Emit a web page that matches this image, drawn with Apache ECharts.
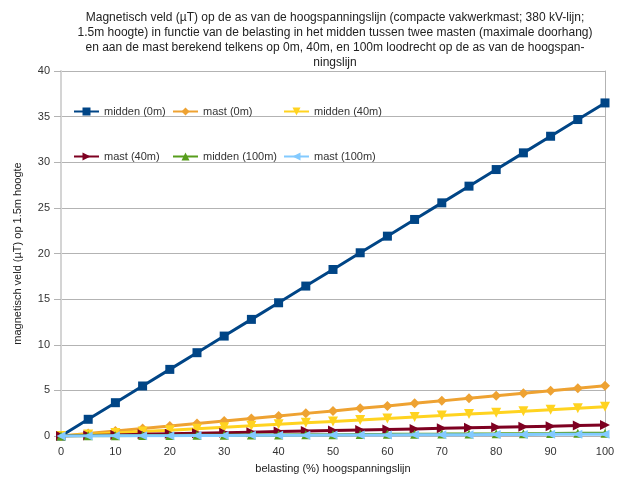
<!DOCTYPE html>
<html>
<head>
<meta charset="utf-8">
<script src="https://cdn.jsdelivr.net/npm/echarts@6/dist/echarts.min.js"></script>
<style>html,body{margin:0;padding:0;background:#fff}#c{width:624px;height:481px}</style>
</head>
<body>
<div id="c"></div>
<script>
var belasting = [0,5,10,15,20,25,30,35,40,45,50,55,60,65,70,75,80,85,90,95,100];
var midden0m = [0,1.83,3.65,5.48,7.3,9.13,10.95,12.78,14.6,16.43,18.25,20.08,21.9,23.73,25.55,27.38,29.2,31.03,32.85,34.68,36.5];
var mast0m = [0,0.28,0.55,0.83,1.1,1.38,1.65,1.93,2.2,2.48,2.75,3.03,3.3,3.58,3.85,4.13,4.4,4.68,4.95,5.23,5.5];
var midden40m = [0,0.16,0.32,0.48,0.64,0.8,0.96,1.12,1.28,1.44,1.6,1.76,1.92,2.08,2.24,2.4,2.56,2.72,2.88,3.04,3.2];
var mast40m = [0,0.06,0.12,0.18,0.24,0.3,0.36,0.42,0.48,0.54,0.6,0.66,0.72,0.78,0.84,0.9,0.96,1.02,1.08,1.14,1.2];
var midden100m = [0,0.02,0.03,0.05,0.06,0.08,0.09,0.11,0.12,0.14,0.15,0.17,0.18,0.2,0.21,0.23,0.24,0.26,0.27,0.29,0.3];
var mast100m = [0,0.01,0.02,0.03,0.04,0.05,0.06,0.07,0.08,0.09,0.1,0.11,0.12,0.13,0.14,0.15,0.16,0.17,0.18,0.19,0.2];
var names = ['midden (0m)','mast (0m)','midden (40m)','mast (40m)','midden (100m)','mast (100m)'];
var colors = ['#004586','#eea232','#ffd320','#7e0021','#579d1c','#83caff'];
var symbols = ['rect','diamond','triangle','triangle','triangle','triangle'];
var rotates = [0,0,180,-90,0,90];
var sizes = [9,10,10,10,9,9];
var allData = [midden0m, mast0m, midden40m, mast40m, midden100m, mast100m];

function pairs(arr){ return belasting.map(function(x,i){ return [x, arr[i]]; }); }

var FONT = 'Liberation Sans, Arial, sans-serif';
var series = [];
for (var i = 0; i < names.length; i++) {
  series.push({
    name: names[i], type: 'line', data: pairs(allData[i]),
    symbol: symbols[i], symbolRotate: rotates[i], symbolSize: sizes[i],
    showAllSymbol: true,
    lineStyle: {color: colors[i], width: 3},
    itemStyle: {color: colors[i]},
    animation: false, z: 2 + i
  });
}
function legendCol(left, items){
  return {
    orient: 'vertical', left: left, top: 106, itemGap: 34,
    itemWidth: 25, itemHeight: 10,
    data: items,
    textStyle: {fontFamily: FONT, fontSize: 11, color: '#333'},
    padding: 0
  };
}
var chart = echarts.init(document.getElementById('c'));
chart.setOption({
  animation: false,
  title: {
    text: 'Magnetisch veld (µT) op de as van de hoogspanningslijn (compacte vakwerkmast; 380 kV-lijn;\n1.5m hoogte) in functie van de belasting in het midden tussen twee masten (maximale doorhang)\nen aan de mast berekend telkens op 0m, 40m, en 100m loodrecht op de as van de hoogspan-\nningslijn',
    left: 330, top: 5, textAlign: 'center',
    textStyle: {fontFamily: FONT, fontSize: 12, fontWeight: 'normal', color: '#222', lineHeight: 15}
  },
  legend: [
    legendCol(73, [names[0], names[3]]),
    legendCol(172, [names[1], names[4]]),
    legendCol(283, [names[2], names[5]])
  ],
  grid: {left: 61, right: 19, top: 71, bottom: 45},
  xAxis: {
    type: 'value', min: 0, max: 100, interval: 10,
    name: 'belasting (%) hoogspanningslijn', nameLocation: 'middle', nameGap: 27,
    nameTextStyle: {fontFamily: FONT, fontSize: 11, color: '#222'},
    axisLine: {show: true, lineStyle: {color: '#b3b3b3'}},
    axisTick: {show: false},
    axisLabel: {fontFamily: FONT, fontSize: 11, color: '#333', margin: 10},
    splitLine: {show: false}
  },
  yAxis: [{
    type: 'value', min: 0, max: 40, interval: 5,
    name: 'magnetisch veld (µT) op 1.5m hoogte', nameLocation: 'middle', nameGap: 38,
    nameTextStyle: {fontFamily: FONT, fontSize: 11, color: '#222'},
    axisLine: {show: true, lineStyle: {color: '#d4d4d4', width: 2}},
    axisTick: {show: true, length: 7, lineStyle: {color: '#b3b3b3'}},
    axisLabel: {fontFamily: FONT, fontSize: 11, color: '#333', margin: 11},
    splitLine: {show: true, lineStyle: {color: '#b3b3b3'}}
  }, {
    type: 'value', min: 0, max: 40, interval: 5, position: 'right',
    axisLine: {show: true, lineStyle: {color: '#b3b3b3'}},
    axisTick: {show: false}, axisLabel: {show: false}, splitLine: {show: false}
  }],
  series: series
});
</script>
</body>
</html>
